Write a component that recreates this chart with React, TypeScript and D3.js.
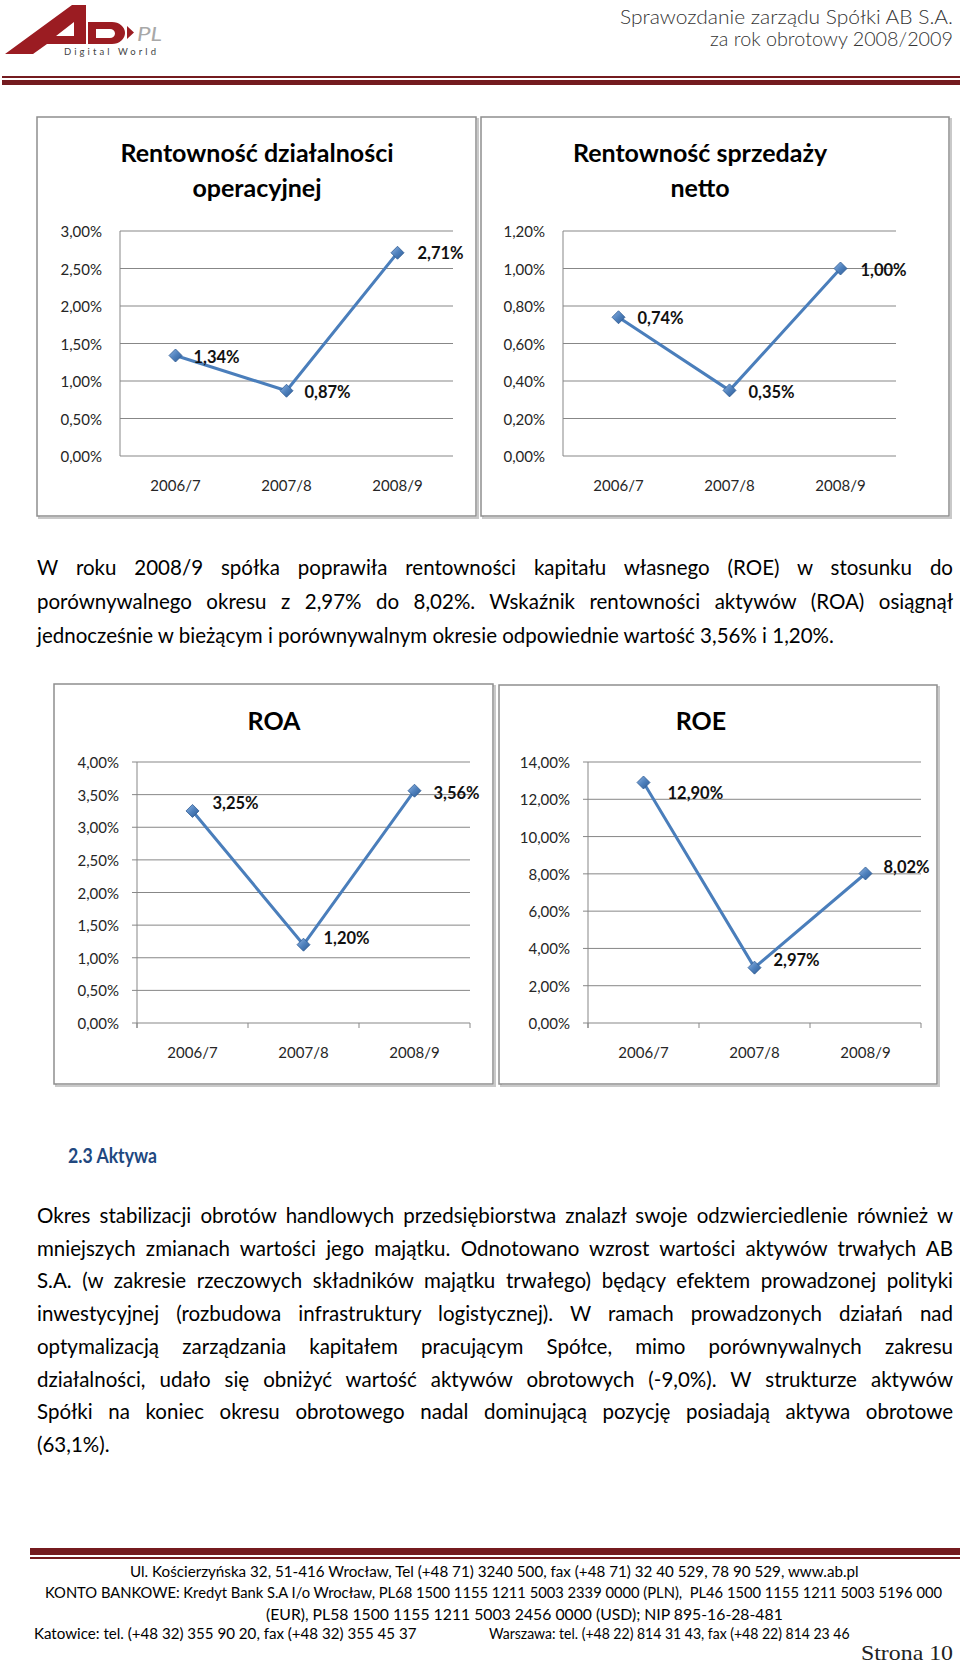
import { useLayoutEffect, useRef } from 'react';
import * as d3 from 'd3';

// --- chart data ---
const CATEGORIES = ['2006/7', '2007/8', '2008/9'];
const OPERATING_MARGIN = [1.34, 0.87, 2.71];
const NET_MARGIN = [0.74, 0.35, 1.0];
const ROA_VALUES = [3.25, 1.2, 3.56];
const ROE_VALUES = [12.9, 2.97, 8.02];
const OPERATING_TICKS = [0, 0.5, 1, 1.5, 2, 2.5, 3];
const NET_TICKS = [0, 0.2, 0.4, 0.6, 0.8, 1.0, 1.2];
const ROA_TICKS = [0, 0.5, 1, 1.5, 2, 2.5, 3, 3.5, 4];
const ROE_TICKS = [0, 2, 4, 6, 8, 10, 12, 14];

// --- page text ---
const PARAGRAPH_1 = [
  'W roku 2008/9 spółka poprawiła rentowności kapitału własnego (ROE) w stosunku do',
  'porównywalnego okresu z 2,97% do 8,02%. Wskaźnik rentowności aktywów (ROA) osiągnął',
  'jednocześnie w bieżącym i porównywalnym okresie odpowiednie wartość 3,56% i 1,20%.',
];
const PARAGRAPH_2 = [
  'Okres stabilizacji obrotów handlowych przedsiębiorstwa znalazł swoje odzwierciedlenie również w',
  'mniejszych zmianach wartości jego majątku. Odnotowano wzrost wartości aktywów trwałych AB',
  'S.A. (w zakresie rzeczowych składników majątku trwałego) będący efektem prowadzonej polityki',
  'inwestycyjnej (rozbudowa infrastruktury logistycznej). W ramach prowadzonych działań nad',
  'optymalizacją zarządzania kapitałem pracującym Spółce, mimo porównywalnych zakresu',
  'działalności, udało się obniżyć wartość aktywów obrotowych (-9,0%). W strukturze aktywów',
  'Spółki na koniec okresu obrotowego nadal dominującą pozycję posiadają aktywa obrotowe',
  '(63,1%).',
];
const FOOTER = [
  'Ul. Kościerzyńska 32, 51-416 Wrocław, Tel (+48 71) 3240 500, fax (+48 71) 32 40 529, 78 90 529, www.ab.pl',
  'KONTO BANKOWE: Kredyt Bank S.A I/o Wrocław, PL68 1500 1155 1211 5003 2339 0000 (PLN),  PL46 1500 1155 1211 5003 5196 000',
  '(EUR), PL58 1500 1155 1211 5003 2456 0000 (USD); NIP 895-16-28-481',
  'Katowice: tel. (+48 32) 355 90 20, fax (+48 32) 355 45 37',
  'Warszawa: tel. (+48 22) 814 31 43, fax (+48 22) 814 23 46',
];

const SANS = 'Lato, "Noto Sans", sans-serif';
const BLUE = '#4a7ebb';
const GRID = '#878787';
const RED = '#741b1f';

const fmt = (v: number) => v.toFixed(2).replace('.', ',') + '%';

interface ChartSpec {
  id: string;
  title: string[];
  values: number[];
  ticks: number[];
  box: [number, number, number, number];
  plotX: number;
  plotTop: number;
  plotBottom: number;
  titleX: number;
  titleY: number;
  tickMarks: boolean;
  nudge: [number, number][];
}

const PLOT_W = 333;

function LineChart({ spec }: { spec: ChartSpec }) {
  const { box, plotX, plotTop, plotBottom, ticks, values } = spec;
  const x = d3.scalePoint<string>().domain(CATEGORIES).range([plotX, plotX + PLOT_W]).padding(0.5);
  const band = d3.scaleBand<string>().domain(CATEGORIES).range([plotX, plotX + PLOT_W]);
  const y = d3.scaleLinear().domain([0, ticks[ticks.length - 1]]).range([plotBottom, plotTop]);
  const line = d3
    .line<number>()
    .x((_, i) => x(CATEGORIES[i]) as number)
    .y((d) => y(d));
  const tickLen = spec.tickMarks ? 5 : 0;
  const boundaries = CATEGORIES.map((c) => band(c) as number).concat(plotX + PLOT_W);

  return (
    <g>
      {/* frame with soft shadow */}
      <rect x={box[0] + 2} y={box[1] + 2} width={box[2]} height={box[3]} fill="none" stroke="#c9c9c9" strokeWidth={2} />
      <rect x={box[0]} y={box[1]} width={box[2]} height={box[3]} fill="#fff" stroke="#8e8e8e" strokeWidth={1.5} />

      {spec.title.map((t, i) => (
        <text
          key={t}
          x={spec.titleX}
          y={spec.titleY + i * 35}
          textAnchor="middle"
          dominantBaseline="central"
          fontFamily={SANS}
          fontWeight={700}
          fontSize={25}
          fill="#000"
        >
          {t}
        </text>
      ))}

      {ticks.map((t) => (
        <g key={t}>
          <line x1={plotX - tickLen} x2={plotX + PLOT_W} y1={y(t)} y2={y(t)} stroke={GRID} strokeWidth={1} />
          <text
            x={plotX - 18}
            y={y(t)}
            textAnchor="end"
            dominantBaseline="central"
            fontFamily={SANS}
            fontSize={15}
            fill="#262626"
          >
            {fmt(t)}
          </text>
        </g>
      ))}
      <line x1={plotX} x2={plotX} y1={plotTop} y2={plotBottom + tickLen} stroke={GRID} strokeWidth={1} />
      {spec.tickMarks &&
        boundaries.map((b) => (
          <line key={b} x1={b} x2={b} y1={plotBottom} y2={plotBottom + 5} stroke={GRID} strokeWidth={1} />
        ))}
      {CATEGORIES.map((c) => (
        <text
          key={c}
          x={x(c)}
          y={plotBottom + 29}
          textAnchor="middle"
          dominantBaseline="central"
          fontFamily={SANS}
          fontSize={15}
          fill="#262626"
        >
          {c}
        </text>
      ))}

      <path d={line(values) || ''} fill="none" stroke={BLUE} strokeWidth={3} strokeLinejoin="round" />
      {values.map((v, i) => {
        const cx = x(CATEGORIES[i]) as number;
        const cy = y(v);
        return (
          <path
            key={i}
            d={`M${cx},${cy - 6.5}L${cx + 6.5},${cy}L${cx},${cy + 6.5}L${cx - 6.5},${cy}Z`}
            fill={`url(#mk-${spec.id})`}
            stroke="#2f5c93"
            strokeWidth={0.8}
          />
        );
      })}
      {values.map((v, i) => (
        <text
          key={'l' + i}
          x={(x(CATEGORIES[i]) as number) + spec.nudge[i][0]}
          y={y(v) + spec.nudge[i][1]}
          dominantBaseline="central"
          fontFamily={SANS}
          fontWeight={700}
          fontSize={16.5}
          fill="#111"
        >
          {fmt(v)}
        </text>
      ))}
      <defs>
        <linearGradient id={`mk-${spec.id}`} x1="0" y1="0" x2="1" y2="1">
          <stop offset="0" stopColor="#8fb4e3" />
          <stop offset="0.5" stopColor="#4f81bd" />
          <stop offset="1" stopColor="#2c5a94" />
        </linearGradient>
      </defs>
    </g>
  );
}

const CHARTS: ChartSpec[] = [
  {
    id: 'op',
    title: ['Rentowność działalności', 'operacyjnej'],
    values: OPERATING_MARGIN,
    ticks: OPERATING_TICKS,
    box: [37, 117, 439, 399],
    plotX: 120,
    plotTop: 231,
    plotBottom: 456,
    titleX: 257,
    titleY: 152,
    tickMarks: false,
    nudge: [[18, 1], [18, 1], [20, 0]],
  },
  {
    id: 'net',
    title: ['Rentowność sprzedaży', 'netto'],
    values: NET_MARGIN,
    ticks: NET_TICKS,
    box: [481, 117, 468, 399],
    plotX: 563,
    plotTop: 231,
    plotBottom: 456,
    titleX: 700,
    titleY: 152,
    tickMarks: false,
    nudge: [[19, 1], [19, 2], [20, 1]],
  },
  {
    id: 'roa',
    title: ['ROA'],
    values: ROA_VALUES,
    ticks: ROA_TICKS,
    box: [54, 684, 439, 400],
    plotX: 137,
    plotTop: 762,
    plotBottom: 1023,
    titleX: 274,
    titleY: 720,
    tickMarks: true,
    nudge: [[20, -8], [20, -7], [19, 2]],
  },
  {
    id: 'roe',
    title: ['ROE'],
    values: ROE_VALUES,
    ticks: ROE_TICKS,
    box: [499, 685, 438, 399],
    plotX: 588,
    plotTop: 762,
    plotBottom: 1023,
    titleX: 701,
    titleY: 720,
    tickMarks: true,
    nudge: [[24, 10], [19, -8], [18, -6]],
  },
];

// text line; justified to a width via word-spacing, or squeezed horizontally to fit it
function TextLine({
  x,
  y,
  width,
  text,
  justify,
  size,
  fit,
}: {
  x: number;
  y: number;
  width: number;
  text: string;
  justify?: boolean;
  size: number;
  fit?: boolean;
}) {
  const ref = useRef<SVGTextElement>(null);
  const gRef = useRef<SVGGElement>(null);
  useLayoutEffect(() => {
    const el = ref.current;
    if (!el) return;
    const natural = el.getComputedTextLength();
    if (justify) {
      const gaps = (text.match(/ /g) || []).length;
      if (gaps) el.setAttribute('word-spacing', String((width - natural) / gaps));
    } else if (fit && gRef.current && natural > 0) {
      gRef.current.setAttribute('transform', `translate(${x},0) scale(${width / natural},1)`);
    }
  }, [text, width, justify, fit, x]);
  return (
    <g ref={gRef} transform={`translate(${x},0)`}>
      <text
        ref={ref}
        x={0}
        y={y}
        dominantBaseline="central"
        fontFamily={SANS}
        fontSize={size}
        fill="#000"
        style={{ whiteSpace: 'pre' }}
      >
        {text}
      </text>
    </g>
  );
}

function Logo() {
  return (
    <g>
      <path
        d="M5,54 L72,5 L86,5 L86,44 L47,44 L33,54 Z M56,36 L74,22 L74,36 Z"
        fill="#9b1c22"
        fillRule="evenodd"
      />
      <path
        d="M88,22 H112 A13,11 0 0 1 112,44 H88 Z M96,29 H110 A5,4.5 0 0 1 110,38 H96 Z"
        fill="#9b1c22"
        fillRule="evenodd"
      />
      <path d="M127,26 L134,32.5 L127,39 Z" fill="#9b1c22" />
      <text x={137} y={41} fontFamily={SANS} fontStyle="italic" fontSize={19} fill="#a8a8a8" textLength={25} lengthAdjust="spacingAndGlyphs">
        PL
      </text>
      <text x={64} y={55} fontFamily={SANS} fontSize={9.5} fill="#444" textLength={92} lengthAdjust="spacing">
        Digital World
      </text>
    </g>
  );
}

export default function App() {
  return (
    <div style={{ position: 'absolute', left: 0, top: 0, background: '#fff' }}>
      <svg width={960} height={1669} viewBox="0 0 960 1669" style={{ display: 'block' }}>
        <rect width={960} height={1669} fill="#fff" />
        <Logo />
        <text
          x={953}
          y={16}
          textAnchor="end"
          dominantBaseline="central"
          fontFamily={SANS}
          fontWeight={300}
          fontSize={19}
          fill="#333"
          textLength={333}
          lengthAdjust="spacingAndGlyphs"
        >
          Sprawozdanie zarządu Spółki AB S.A.
        </text>
        <text
          x={953}
          y={38}
          textAnchor="end"
          dominantBaseline="central"
          fontFamily={SANS}
          fontWeight={300}
          fontSize={19}
          fill="#333"
          textLength={243}
          lengthAdjust="spacingAndGlyphs"
        >
          za rok obrotowy 2008/2009
        </text>
        <rect x={2} y={76} width={958} height={2} fill={RED} />
        <rect x={2} y={80} width={958} height={5} fill={RED} />

        {CHARTS.map((c) => (
          <LineChart key={c.id} spec={c} />
        ))}

        {PARAGRAPH_1.map((t, i) => (
          <TextLine
            key={t}
            x={37}
            y={567 + i * 34}
            width={916}
            text={t}
            size={20.5}
            justify={i < PARAGRAPH_1.length - 1}
          />
        ))}

        <text
          x={68}
          y={1154}
          dominantBaseline="central"
          fontFamily={SANS}
          fontWeight={700}
          fontSize={21}
          fill="#21487f"
          textLength={89}
          lengthAdjust="spacingAndGlyphs"
        >
          2.3 Aktywa
        </text>

        {PARAGRAPH_2.map((t, i) => (
          <TextLine key={t} x={37} y={1215 + i * 32.7} width={916} text={t} size={20.5} justify={i < PARAGRAPH_2.length - 1} />
        ))}

        <rect x={30} y={1548} width={930} height={7} fill={RED} />
        <rect x={30} y={1557} width={930} height={2} fill={RED} />

        <TextLine x={130} y={1571} width={729} text={FOOTER[0]} size={16} fit />
        <TextLine x={45} y={1592} width={898} text={FOOTER[1]} size={16} fit />
        <TextLine x={266} y={1613} width={517} text={FOOTER[2]} size={16} fit />
        <TextLine x={34} y={1633} width={383} text={FOOTER[3]} size={16} fit />
        <TextLine x={489} y={1633} width={361} text={FOOTER[4]} size={16} fit />
        <text
          x={953}
          y={1653}
          textAnchor="end"
          dominantBaseline="central"
          fontFamily='"Liberation Serif", serif'
          fontSize={21}
          fill="#222"
          textLength={92}
          lengthAdjust="spacingAndGlyphs"
        >
          Strona 10
        </text>
      </svg>
    </div>
  );
}
